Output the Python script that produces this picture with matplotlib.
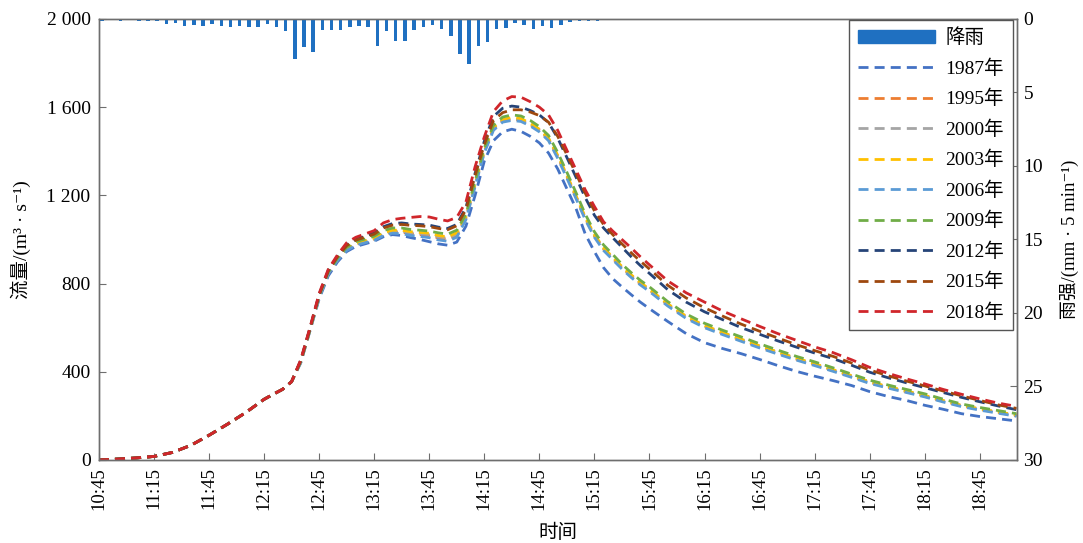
"""
流量过程线与降雨柱状图（1987-2018年）
"""

import matplotlib
matplotlib.use("Agg")
import matplotlib.pyplot as plt
from matplotlib.patches import Patch
from matplotlib.lines import Line2D

plt.rcParams["font.family"] = ["Liberation Serif", "Noto Sans CJK SC", "DejaVu Sans"]

# 时间步（每步 5 min，从 10:45 起）
step_head = [0, 2, 4, 6, 8, 10, 12, 14, 16, 18, 19, 20, 21]
step_tail = list(range(22, 61)) + list(range(62, 101, 2))
steps = step_head + step_tail

tick_steps = list(range(0, 97, 6))
tick_labels = ["10:45", "11:15", "11:45", "12:15", "12:45", "13:15", "13:45", "14:15",
               "14:45", "15:15", "15:45", "16:15", "16:45", "17:15", "17:45", "18:15", "18:45"]

# 起涨段各年份重合
flow_head = [0, 4, 9, 16, 34, 66, 112, 162, 215, 275, 298, 320, 355]

years = ["1987年", "1995年", "2000年", "2003年", "2006年", "2009年", "2012年", "2015年", "2018年"]
colors = ["#4472C4", "#ED7D31", "#A5A5A5", "#FFC000", "#5B9BD5", "#70AD47", "#264478", "#9E480E", "#D0262B"]

flow_1987 = [440, 585, 730, 835, 898, 945, 968, 980, 992, 1012, 1022, 1018, 1008, 1000, 990, 980, 974, 988,
             1060, 1200, 1355, 1448, 1488, 1500, 1490, 1468, 1438, 1392, 1320, 1230, 1140, 1025, 945, 872,
             822, 785, 750, 716, 686,
             628, 573, 532, 505, 482, 456, 428, 402, 380, 360, 338, 310, 288, 270, 248, 230, 210, 197, 187, 177]
flow_1995 = [445, 589, 740, 846, 907, 954, 978, 989, 1000, 1023, 1034, 1033, 1026, 1022, 1017, 1007, 1001, 1019,
             1097, 1247, 1398, 1502, 1538, 1546, 1541, 1521, 1494, 1454, 1375, 1285, 1191, 1096, 1016, 956,
             914, 871, 834, 799, 769,
             703, 647, 605, 573, 543, 513, 485, 457, 432, 406, 379, 351, 329, 309, 289, 266, 245, 229, 215, 201]
flow_2000 = [446, 590, 741, 847, 908, 956, 980, 991, 1003, 1026, 1038, 1037, 1030, 1027, 1022, 1012, 1006, 1024,
             1101, 1251, 1401, 1505, 1541, 1549, 1544, 1524, 1497, 1457, 1378, 1288, 1194, 1099, 1019, 959,
             917, 874, 837, 802, 772,
             705, 650, 608, 576, 546, 516, 488, 460, 435, 408, 381, 353, 331, 311, 291, 268, 247, 231, 217, 203]
flow_2003 = [446, 590, 742, 848, 910, 958, 982, 994, 1006, 1030, 1042, 1042, 1035, 1032, 1028, 1018, 1012, 1030,
             1105, 1255, 1405, 1508, 1544, 1553, 1548, 1528, 1500, 1460, 1382, 1292, 1198, 1102, 1022, 962,
             920, 877, 840, 805, 775,
             708, 652, 610, 578, 548, 518, 490, 462, 437, 410, 383, 355, 333, 313, 293, 270, 248, 232, 218, 204]
flow_2006 = [444, 588, 738, 844, 905, 950, 974, 985, 996, 1018, 1028, 1026, 1018, 1014, 1008, 998, 992, 1010,
             1090, 1240, 1392, 1495, 1532, 1540, 1535, 1515, 1488, 1448, 1368, 1278, 1185, 1090, 1010, 950,
             908, 866, 828, 794, 764,
             698, 642, 600, 568, 538, 508, 480, 453, 428, 402, 375, 347, 326, 306, 286, 263, 242, 226, 212, 198]
flow_2009 = [448, 592, 745, 852, 915, 965, 990, 1002, 1015, 1040, 1052, 1052, 1045, 1042, 1038, 1030, 1024, 1042,
             1115, 1265, 1415, 1518, 1555, 1565, 1560, 1540, 1512, 1472, 1395, 1305, 1212, 1115, 1035, 975,
             932, 888, 850, 815, 785,
             718, 662, 620, 588, 558, 527, 498, 470, 445, 418, 390, 362, 340, 320, 300, 276, 254, 238, 224, 210]
flow_2012 = [452, 597, 750, 860, 925, 976, 1000, 1014, 1030, 1058, 1072, 1075, 1070, 1068, 1065, 1056, 1050, 1068,
             1145, 1300, 1445, 1558, 1595, 1605, 1600, 1585, 1565, 1530, 1460, 1372, 1282, 1190, 1110, 1052,
             1008, 965, 922, 882, 846,
             772, 716, 672, 636, 600, 570, 540, 512, 485, 460, 430, 398, 373, 350, 328, 306, 284, 264, 245, 228]
flow_2015 = [450, 595, 748, 858, 922, 972, 997, 1010, 1024, 1052, 1065, 1068, 1064, 1062, 1058, 1050, 1044, 1062,
             1135, 1290, 1430, 1540, 1575, 1588, 1588, 1578, 1562, 1532, 1468, 1385, 1298, 1210, 1130, 1068,
             1022, 980, 940, 902, 866,
             792, 735, 690, 652, 616, 584, 553, 523, 496, 470, 440, 408, 382, 358, 336, 313, 291, 270, 250, 234]
flow_2018 = [455, 600, 755, 865, 930, 985, 1010, 1025, 1040, 1075, 1090, 1096, 1100, 1104, 1102, 1092, 1084, 1100,
             1170, 1330, 1465, 1580, 1628, 1648, 1645, 1625, 1600, 1565, 1495, 1405, 1315, 1225, 1150, 1080,
             1038, 1000, 962, 922, 885,
             812, 758, 716, 675, 640, 606, 573, 543, 513, 487, 455, 420, 393, 368, 345, 320, 298, 277, 258, 243]

flows = [flow_1987, flow_1995, flow_2000, flow_2003, flow_2006, flow_2009, flow_2012, flow_2015, flow_2018]

# 降雨（mm/5 min）
rain = [0.16, 0, 0.16, 0, 0.14, 0.14, 0.16, 0.34, 0.30, 0.48, 0.41, 0.48, 0.34, 0.48, 0.57, 0.48, 0.57, 0.57,
        0.34, 0.52, 0.84, 2.72, 1.93, 2.27, 0.75, 0.75, 0.75, 0.57, 0.50, 0.57, 1.86, 0.84, 1.47, 1.47, 0.75,
        0.57, 0.39, 0.68, 1.13, 2.38, 3.06, 1.86, 1.59, 0.68, 0.61, 0.29, 0.39, 0.68, 0.50, 0.61, 0.39, 0.23,
        0.16, 0.16, 0.16, 0, 0, 0, 0, 0.10]
rain_steps = list(range(len(rain)))


def main():
    fig = plt.figure(figsize=(10.83, 5.43), dpi=100)
    ax = fig.add_axes([0.0913, 0.1529, 0.8473, 0.8122])
    ax2 = ax.twinx()

    for flow, year, color in zip(flows, years, colors):
        ax.plot(steps, flow_head + flow, color=color, lw=2.0, linestyle=(0, (3.6, 2.2)), label=year)

    ax2.bar([s + 0.35 for s in rain_steps], rain, width=0.38, color="#1f70c1", label="降雨")

    ax.set_xlim(0, 100)
    ax.set_ylim(0, 2000)
    ax.set_yticks([0, 400, 800, 1200, 1600, 2000])
    ax.set_yticklabels(["0", "400", "800", "1 200", "1 600", "2 000"])
    ax.set_xticks(tick_steps)
    ax.set_xticklabels(tick_labels, rotation=90)
    ax2.set_ylim(30, 0)
    ax2.set_yticks([0, 5, 10, 15, 20, 25, 30])

    ax.set_xlabel("时间", fontsize=14, labelpad=10)
    ax.set_ylabel("流量/(m³ · s⁻¹)", fontsize=14, labelpad=11)
    ax2.set_ylabel("雨强/(mm · 5 min⁻¹)", fontsize=13.5, labelpad=12)

    for a in (ax, ax2):
        for sp in a.spines.values():
            sp.set_color("#6e6e6e")
            sp.set_linewidth(1.0)
        a.tick_params(direction="in", length=5, color="#6e6e6e", labelsize=14)
    ax.tick_params(axis="x", pad=5, labelsize=13.5)
    ax.tick_params(axis="y", pad=6)
    ax2.tick_params(axis="y", pad=5)

    handles = [Patch(color="#1f70c1", label="降雨")]
    handles += [Line2D([], [], color=c, lw=2.0, linestyle=(0, (3.6, 2.2)), label=y) for y, c in zip(years, colors)]
    leg = ax2.legend(handles=handles, loc="upper right", bbox_to_anchor=(0.996, 0.998), borderaxespad=0,
                     fontsize=14, handlelength=4.0, handleheight=0.6, handletextpad=0.5, labelspacing=0.62,
                     fancybox=False, framealpha=1, edgecolor="#555555", borderpad=0.45)
    leg.get_frame().set_linewidth(1.0)

    fig.savefig("out.png", dpi=100)
    plt.close(fig)


if __name__ == "__main__":
    main()
